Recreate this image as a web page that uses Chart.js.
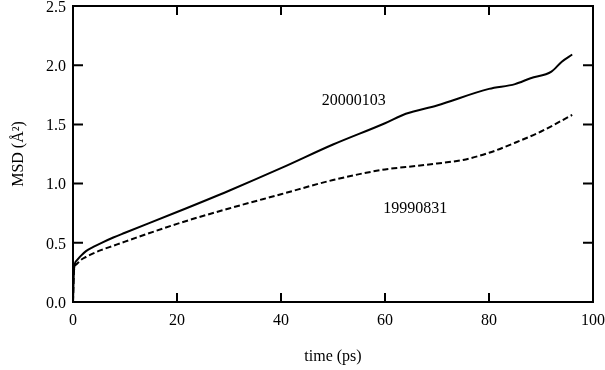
<!DOCTYPE html>
<html>
<head>
<meta charset="UTF-8">
<title>MSD vs time</title>
<script src="https://cdn.jsdelivr.net/npm/chart.js"></script>
<style>
  html, body { margin: 0; padding: 0; background: #fff; overflow: hidden; }
</style>
</head>
<body>
<canvas id="msd" width="605" height="370"></canvas>
<script>
// values
const t20000103 = [0, 0.2, 0.7, 1.5, 2.5, 3.9, 5.5, 7.75, 10, 20, 30, 40, 50, 60, 64, 70, 80, 85, 88, 92, 94, 96];
const msd20000103 = [0, 0.28, 0.35, 0.39, 0.43, 0.465, 0.50, 0.545, 0.585, 0.76, 0.94, 1.13, 1.33, 1.51, 1.59, 1.66, 1.80, 1.84, 1.89, 1.945, 2.03, 2.09];
const t19990831 = [0, 0.2, 0.7, 1.5, 2.5, 3.9, 5.5, 7.75, 10, 20, 30, 40, 50, 60, 64, 70, 75, 80, 85, 90, 96];
const msd19990831 = [0, 0.27, 0.32, 0.355, 0.38, 0.41, 0.44, 0.475, 0.51, 0.66, 0.79, 0.91, 1.03, 1.12, 1.14, 1.17, 1.20, 1.26, 1.345, 1.44, 1.58];
const xTicks = [0, 20, 40, 60, 80, 100];
const yTicks = [0, 0.5, 1.0, 1.5, 2.0, 2.5];
const seriesNames = ['20000103', '19990831'];
const labelPos = [[54, 1.70], [65.8, 0.79]];

const FONT = '"Liberation Serif", "DejaVu Serif", serif';
const FSIZE = 16;

function toXY(ts, vs) { return ts.map((t, i) => ({ x: t, y: vs[i] })); }

// no extra room for overhanging tick labels
function noPad(s) { s.paddingLeft = s.paddingRight = s.paddingTop = s.paddingBottom = 0; }

// frame with inward ticks on all four sides + curve labels
const framePlugin = {
  id: 'frame',
  afterDraw(chart) {
    const { ctx, chartArea: a, scales: { x, y } } = chart;
    ctx.save();
    ctx.strokeStyle = '#000';
    ctx.lineWidth = 2;
    ctx.strokeRect(a.left, a.top, a.right - a.left, a.bottom - a.top);
    ctx.beginPath();
    xTicks.forEach(v => {
      const px = x.getPixelForValue(v);
      ctx.moveTo(px, a.bottom); ctx.lineTo(px, a.bottom - 9);
      ctx.moveTo(px, a.top); ctx.lineTo(px, a.top + 9);
    });
    yTicks.forEach(v => {
      const py = y.getPixelForValue(v);
      ctx.moveTo(a.left, py); ctx.lineTo(a.left + 10, py);
      ctx.moveTo(a.right, py); ctx.lineTo(a.right - 10, py);
    });
    ctx.stroke();
    ctx.fillStyle = '#000';
    ctx.font = FSIZE + 'px ' + FONT;
    ctx.textAlign = 'center';
    ctx.textBaseline = 'middle';
    seriesNames.forEach((n, i) => {
      ctx.fillText(n, x.getPixelForValue(labelPos[i][0]), y.getPixelForValue(labelPos[i][1]));
    });
    ctx.restore();
  }
};

new Chart(document.getElementById('msd'), {
  type: 'line',
  data: {
    datasets: [
      {
        label: seriesNames[0],
        data: toXY(t20000103, msd20000103),
        borderColor: '#000',
        borderWidth: 2,
        pointRadius: 0,
        cubicInterpolationMode: 'monotone'
      },
      {
        label: seriesNames[1],
        data: toXY(t19990831, msd19990831),
        borderColor: '#000',
        borderWidth: 2,
        borderDash: [6, 3],
        pointRadius: 0,
        cubicInterpolationMode: 'monotone'
      }
    ]
  },
  options: {
    responsive: false,
    animation: false,
    devicePixelRatio: 1,
    layout: { padding: { left: 5, top: 6, right: 12, bottom: 0 } },
    plugins: { legend: { display: false }, tooltip: { enabled: false } },
    scales: {
      x: {
        type: 'linear',
        min: 0, max: 100,
        afterFit(s) { s.height = 68; noPad(s); },
        afterBuildTicks(s) { s.ticks = xTicks.map(v => ({ value: v })); },
        grid: { display: false, drawTicks: false },
        border: { display: false },
        ticks: { color: '#000', padding: 9, font: { family: FONT, size: FSIZE }, maxRotation: 0 },
        title: { display: true, text: 'time (ps)', color: '#000', font: { family: FONT, size: FSIZE } }
      },
      y: {
        type: 'linear',
        min: 0, max: 2.5,
        afterFit(s) { s.width = 68; noPad(s); },
        afterBuildTicks(s) { s.ticks = yTicks.map(v => ({ value: v })); },
        grid: { display: false, drawTicks: false },
        border: { display: false },
        ticks: {
          color: '#000', padding: 7, labelOffset: 1.5, font: { family: FONT, size: FSIZE },
          callback: v => v.toFixed(1)
        },
        title: { display: true, text: 'MSD (Å²)', color: '#000', font: { family: FONT, size: FSIZE } }
      }
    }
  },
  plugins: [framePlugin]
});
</script>
</body>
</html>
